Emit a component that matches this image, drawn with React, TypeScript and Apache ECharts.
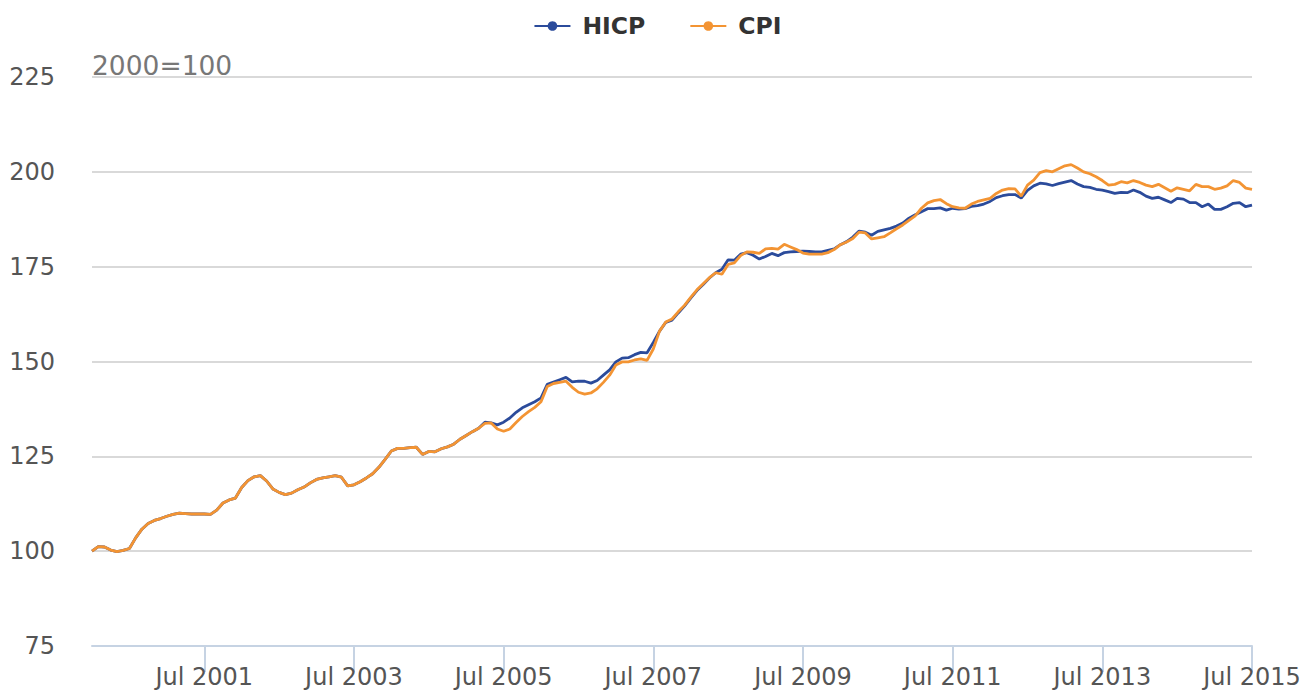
import React, { useEffect, useRef } from "react";
import * as echarts from "echarts";

const MONTH_NAMES = ["Jan", "Feb", "Mar", "Apr", "May", "Jun", "Jul", "Aug", "Sep", "Oct", "Nov", "Dec"];
const START_YEAR = 2000;
const MONTH_COUNT = 187; // Jan 2000 .. Jul 2015
const CATEGORIES: string[] = [];
for (let i = 0; i < MONTH_COUNT; i++) {
  CATEGORIES.push(MONTH_NAMES[i % 12] + " " + (START_YEAR + Math.floor(i / 12)));
}
const TICK_LABELS = ["Jul 2001", "Jul 2003", "Jul 2005", "Jul 2007", "Jul 2009", "Jul 2011", "Jul 2013", "Jul 2015"];

const Y_MIN = 75;
const Y_MAX = 225;
const Y_STEP = 25;
const NOTE = "2000=100";

const CPI = [
  100.0, 101.2, 101.1, 100.3, 99.9, 100.2, 100.7, 103.5, 105.8, 107.3, 108.1, 108.6,
  109.2, 109.7, 110.0, 109.9, 109.8, 109.8, 109.8, 109.7, 110.8, 112.7, 113.5, 114.0,
  116.8, 118.6, 119.6, 119.9, 118.5, 116.4, 115.5, 114.9, 115.3, 116.2, 116.9, 118.0,
  118.9, 119.3, 119.6, 119.9, 119.5, 117.2, 117.5, 118.3, 119.3, 120.4, 122.1, 124.2,
  126.4, 127.1, 127.1, 127.3, 127.4, 125.5, 126.3, 126.2, 127.0, 127.5, 128.2, 129.5,
  130.5, 131.5, 132.4, 133.7, 133.8, 132.2, 131.6, 132.2, 133.9, 135.5, 136.8, 137.9,
  139.4, 143.4, 144.2, 144.5, 144.8, 143.2, 141.9, 141.4, 141.7, 142.8, 144.5, 146.4,
  149.1, 149.9, 149.9, 150.4, 150.7, 150.3, 153.3, 158.0, 160.4, 161.2, 163.1, 164.8,
  166.9, 168.9, 170.5, 172.1, 173.4, 173.0, 175.6, 176.0, 177.9, 178.9, 178.8, 178.5,
  179.7, 179.8, 179.6, 180.9, 180.2, 179.5, 178.6, 178.3, 178.3, 178.3, 178.7, 179.5,
  180.8, 181.5, 182.4, 184.1, 183.9, 182.3, 182.6, 182.9, 183.9, 185.0, 186.0, 187.2,
  188.4, 190.4, 191.8, 192.4, 192.7, 191.6, 190.8, 190.5, 190.4, 191.5, 192.2, 192.6,
  193.0, 194.3, 195.2, 195.6, 195.5, 193.6, 196.5, 197.8, 199.8, 200.3, 200.0, 200.8,
  201.6, 201.9, 201.0, 200.0, 199.5, 198.7, 197.7, 196.5, 196.7, 197.4, 197.1, 197.7,
  197.2, 196.5, 196.1, 196.7, 195.8, 194.9, 195.8, 195.4, 195.0, 196.7, 196.1, 196.1,
  195.4, 195.7, 196.3, 197.7, 197.2, 195.7, 195.4,
];

const HICP = [
  100.0, 101.2, 101.1, 100.3, 99.9, 100.2, 100.7, 103.5, 105.8, 107.3, 108.1, 108.6,
  109.2, 109.7, 110.0, 109.9, 109.8, 109.8, 109.8, 109.7, 110.8, 112.7, 113.5, 114.0,
  116.8, 118.6, 119.6, 119.9, 118.5, 116.4, 115.5, 114.9, 115.3, 116.2, 116.9, 118.0,
  118.9, 119.3, 119.6, 119.9, 119.5, 117.2, 117.5, 118.3, 119.3, 120.4, 122.1, 124.2,
  126.4, 127.1, 127.1, 127.3, 127.4, 125.5, 126.3, 126.2, 127.0, 127.5, 128.2, 129.5,
  130.5, 131.5, 132.4, 134.0, 133.8, 133.3, 134.0, 135.1, 136.6, 137.8, 138.6, 139.4,
  140.4, 144.0, 144.6, 145.2, 145.8, 144.6, 144.8, 144.8, 144.3, 145.0, 146.4, 147.8,
  149.9, 150.9, 151.0, 151.8, 152.4, 152.3, 155.0, 158.0, 160.3, 160.9, 162.8, 164.6,
  166.7, 168.7, 170.3, 172.0, 173.4, 174.3, 176.8, 176.7, 178.3, 178.7, 178.0, 177.0,
  177.7, 178.5, 177.9, 178.7, 178.9, 179.0, 179.1, 179.0, 178.9, 178.9, 179.3, 179.7,
  180.8, 181.6, 182.8, 184.4, 184.1, 183.3, 184.3, 184.7, 185.1, 185.7, 186.5, 187.8,
  188.7, 189.5, 190.3, 190.3, 190.5, 189.9, 190.4, 190.2, 190.3, 190.9, 191.1, 191.5,
  192.2, 193.2, 193.7, 194.0, 194.0, 193.1, 195.1, 196.3, 197.0, 196.8, 196.4, 196.9,
  197.3, 197.7, 196.8, 196.1, 195.9, 195.4, 195.2, 194.8, 194.3, 194.6, 194.5, 195.2,
  194.6, 193.6, 193.0, 193.3, 192.6, 191.9, 193.0, 192.8, 191.9, 191.9, 190.8, 191.5,
  190.1, 190.1, 190.8, 191.7, 191.9, 190.8, 191.2,
];

const FONT = "'DejaVu Sans', sans-serif";

export default function App() {
  const ref = useRef<HTMLDivElement>(null);
  useEffect(() => {
    if (!ref.current) return;
    const chart = echarts.init(ref.current, undefined, { renderer: "svg" });
    const showTick = (index: number, value: string) => TICK_LABELS.indexOf(value) >= 0;
    chart.setOption({
      animation: false,
      backgroundColor: "#ffffff",
      textStyle: { fontFamily: FONT },
      grid: { left: 92, right: 63, top: 77, bottom: 47, containLabel: false },
      legend: {
        top: 9,
        left: "center",
        itemWidth: 36,
        itemHeight: 12,
        itemGap: 44,
        textStyle: {
          fontFamily: FONT,
          fontSize: 23.5,
          fontWeight: "bold",
          color: "#333333",
          padding: [0, 0, 0, 7],
        },
        data: ["HICP", "CPI"],
      },
      graphic: [
        {
          type: "text",
          left: 92,
          top: 52,
          style: { text: NOTE, fontFamily: FONT, fontSize: 26.5, fill: "#777777" },
        },
      ],
      xAxis: {
        type: "category",
        data: CATEGORIES,
        boundaryGap: false,
        axisLine: { lineStyle: { color: "#c6d3e3", width: 2 } },
        axisTick: { interval: showTick, length: 26, lineStyle: { color: "#c6d3e3", width: 2 } },
        axisLabel: {
          interval: showTick,
          margin: 19,
          fontFamily: FONT,
          fontSize: 24,
          color: "#555555",
        },
        splitLine: { show: false },
      },
      yAxis: {
        type: "value",
        min: Y_MIN,
        max: Y_MAX,
        interval: Y_STEP,
        axisLine: { show: false },
        axisTick: { show: false },
        axisLabel: { margin: 37, fontFamily: FONT, fontSize: 24, color: "#555555" },
        splitLine: { lineStyle: { color: "#d9d9d9", width: 2 } },
      },
      series: [
        {
          name: "HICP",
          type: "line",
          data: HICP,
          symbol: "circle",
          symbolSize: 10,
          showSymbol: false,
          itemStyle: { color: "#2b4b9b" },
          lineStyle: { color: "#2b4b9b", width: 2.8 },
          z: 2,
        },
        {
          name: "CPI",
          type: "line",
          data: CPI,
          symbol: "circle",
          symbolSize: 10,
          showSymbol: false,
          itemStyle: { color: "#f39433" },
          lineStyle: { color: "#f39433", width: 2.8 },
          z: 3,
        },
      ],
    });
    return () => chart.dispose();
  }, []);
  return (
    <div
      ref={ref}
      style={{ position: "fixed", left: 0, top: 0, width: 1315, height: 693 }}
    />
  );
}
